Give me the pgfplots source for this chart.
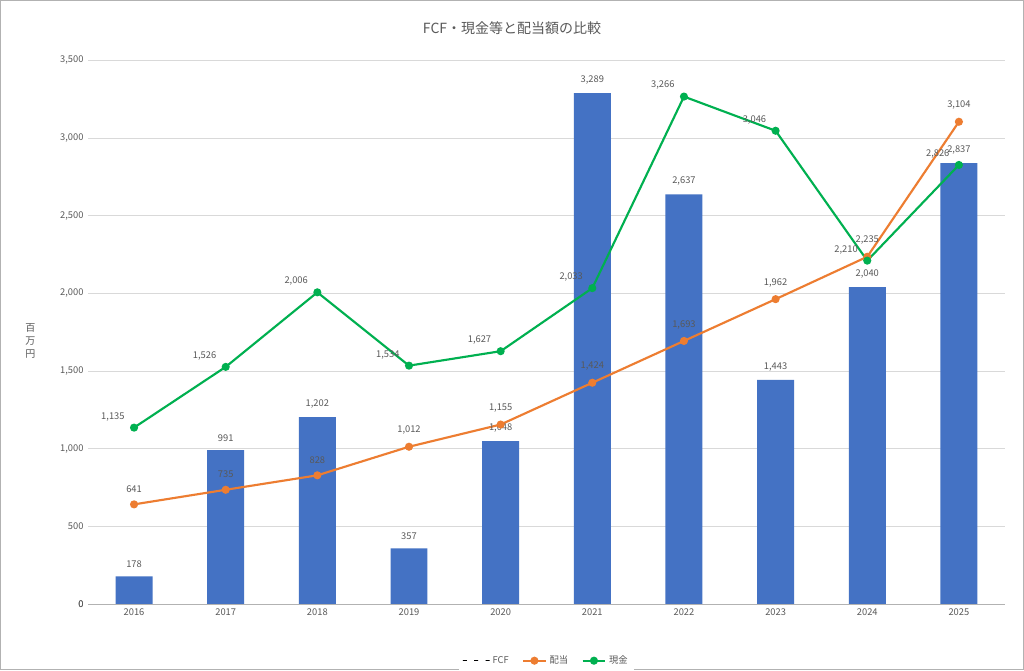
\documentclass[border=0pt]{standalone}
\usepackage{pgfplots}
\pgfplotsset{compat=1.18}
\usepackage{fontspec}
\setmainfont{Noto Sans CJK JP}
\definecolor{cb}{HTML}{4472C4}
\definecolor{co}{HTML}{ED7D31}
\definecolor{cg}{HTML}{00B050}
\definecolor{tx}{HTML}{595959}
\begin{document}
\begin{tikzpicture}
\draw[draw=gray!60,fill=white] (0,0) rectangle (768pt,501.75pt);
\node[font=\fontsize{10.5}{12}\selectfont,text=tx] at (384pt,481pt) {FCF・現金等と配当額の比較};
\node[font=\fontsize{7.5}{10}\selectfont,text=tx,align=center] at (22.5pt,246pt) {百\\万\\円};
\begin{axis}[at={(66pt,48.75pt)},anchor=south west,scale only axis,
 width=687.75pt,height=408pt,
 xmin=-0.5,xmax=9.5,ymin=0,ymax=3500,
 xtick={0,...,9},xticklabels={2016,2017,2018,2019,2020,2021,2022,2023,2024,2025},
 ytick={0,500,...,3500},
 /pgf/number format/assume math mode=true,
 /pgf/number format/1000 sep={,},
 ymajorgrids,grid style={gray!30},
 axis line style={draw=none},
 extra y ticks={0},extra y tick style={grid style={gray!60}},
 tick style={draw=none},
 ticklabel style={font=\fontsize{7}{8}\selectfont,text=tx},
 nodes near coords style={font=\fontsize{7}{8}\selectfont,text=tx,/pgf/number format/1000 sep={,}},
 legend style={at={(0.5,-0.085)},anchor=north,draw=none,font=\fontsize{7}{8}\selectfont,text=tx,legend columns=-1,/tikz/every even column/.append style={column sep=8pt}},
 ]
\addplot[ybar,bar width=27.75pt,fill=cb,draw=none,nodes near coords,nodes near coords style={anchor=south,yshift=3pt}] coordinates {(0,178)(1,991)(2,1202)(3,357)(4,1048)(5,3289)(6,2637)(7,1443)(8,2040)(9,2837)};
\addlegendentry{FCF}
\addplot[co,line width=1.6pt,mark=*,mark size=2.2pt,nodes near coords,nodes near coords style={anchor=south,yshift=5pt}] coordinates {(0,641)(1,735)(2,828)(3,1012)(4,1155)(5,1424)(6,1693)(7,1962)(8,2235)(9,3104)};
\addlegendentry{配当}
\addplot[cg,line width=1.6pt,mark=*,mark size=2.2pt,nodes near coords,nodes near coords style={anchor=south east,xshift=-3pt,yshift=1pt}] coordinates {(0,1135)(1,1526)(2,2006)(3,1534)(4,1627)(5,2033)(6,3266)(7,3046)(8,2210)(9,2826)};
\addlegendentry{現金}
\end{axis}
\end{tikzpicture}
\end{document}
